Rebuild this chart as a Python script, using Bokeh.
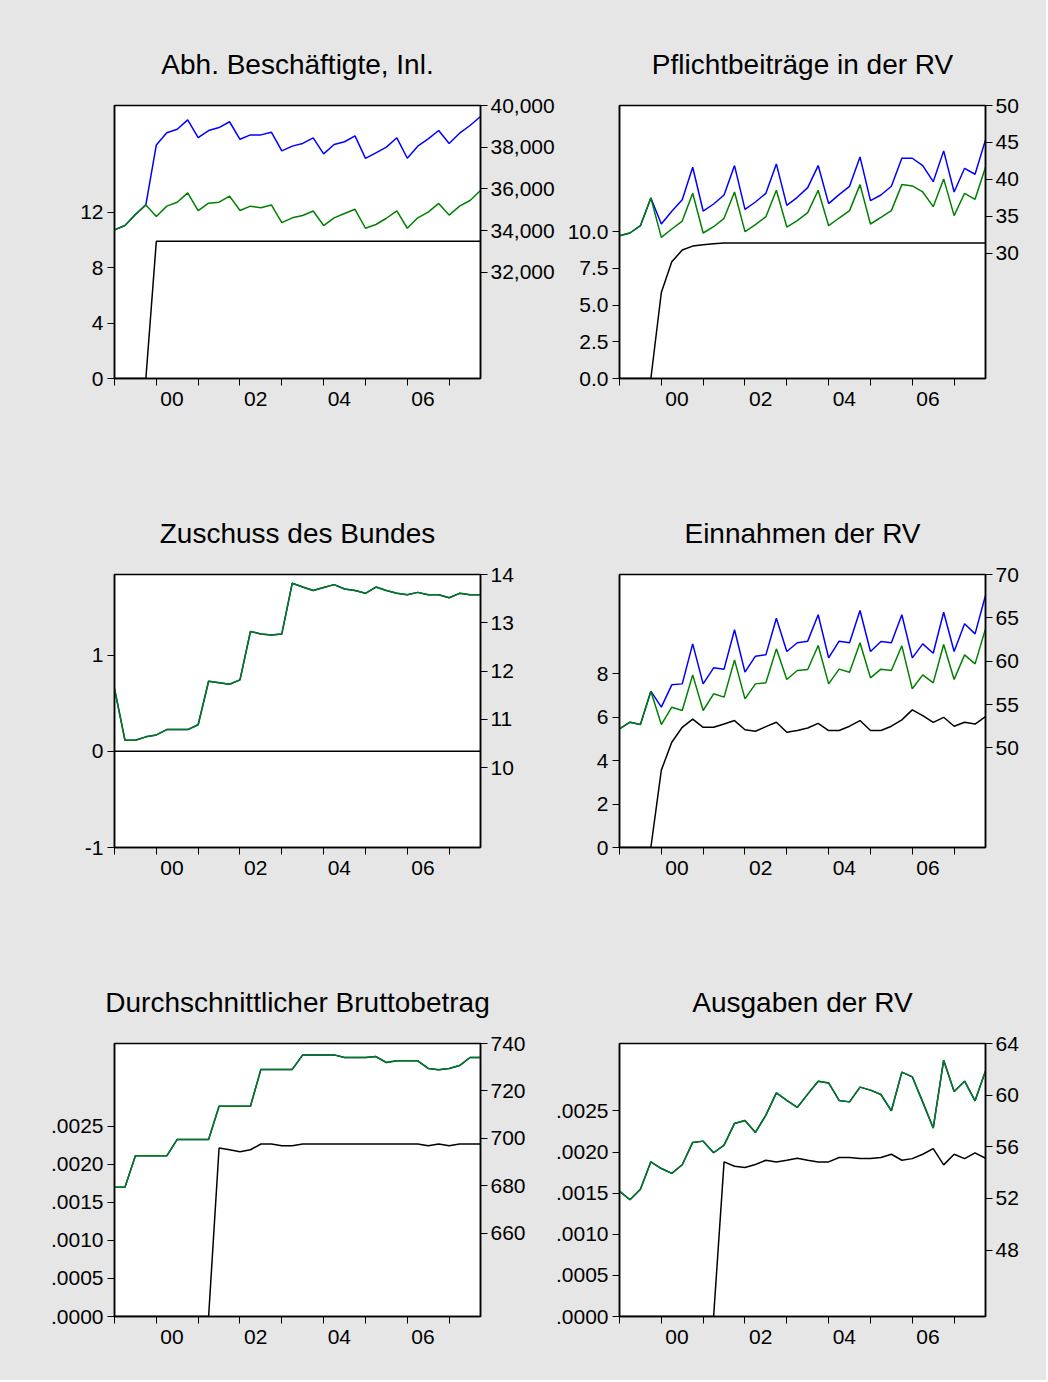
from bokeh.plotting import figure
from bokeh.models import Range1d, LinearAxis, FixedTicker
from bokeh.layouts import column, row
from bokeh.embed import file_html
from bokeh.resources import INLINE

# ---------------- data (quarterly, 1999Q1 .. 2007Q4) ----------------
years = [1999, 2000, 2001, 2002, 2003, 2004, 2005, 2006, 2007]
quarters = [y + q / 4 for y in years for q in range(4)]
x_label_pos = [2000.375, 2002.375, 2004.375, 2006.375]
x_labels = ["00", "02", "04", "06"]

# Panel 1: Abh. Beschäftigte, Inl.
p1_black = [0, 0, 0, 0, 9.9, 9.9, 9.9, 9.9, 9.9, 9.9, 9.9, 9.9,
            9.9, 9.9, 9.9, 9.9, 9.9, 9.9, 9.9, 9.9, 9.9, 9.9, 9.9, 9.9,
            9.9, 9.9, 9.9, 9.9, 9.9, 9.9, 9.9, 9.9, 9.9, 9.9, 9.9, 9.9]
p1_blue = [34030, 34240, 34770, 35230, 38110, 38690, 38860, 39310, 38460, 38800, 38940, 39220,
           38380, 38590, 38590, 38720, 37820, 38050, 38180, 38450, 37680, 38130, 38260, 38540,
           37460, 37730, 38000, 38450, 37470, 38050, 38400, 38800, 38180, 38670, 39040, 39470]
p1_green = [34030, 34240, 34770, 35230, 34670, 35170, 35360, 35810, 34960, 35310, 35360, 35650,
            34960, 35170, 35090, 35230, 34380, 34610, 34720, 34940, 34240, 34610, 34820, 35020,
            34110, 34290, 34590, 34940, 34110, 34610, 34880, 35300, 34740, 35170, 35440, 35920]
p1_left_ticks = [0, 4, 8, 12]
p1_left_labels = ["0", "4", "8", "12"]
p1_right_ticks = [32000, 34000, 36000, 38000, 40000]
p1_right_labels = ["32,000", "34,000", "36,000", "38,000", "40,000"]

# Panel 2: Pflichtbeiträge in der RV
p2_black = [0, 0, 0, 0, 5.86, 7.95, 8.75, 9.02, 9.11, 9.18, 9.23, 9.23,
            9.23, 9.23, 9.23, 9.23, 9.23, 9.23, 9.23, 9.23, 9.23, 9.23, 9.23, 9.23,
            9.23, 9.23, 9.23, 9.23, 9.23, 9.23, 9.23, 9.23, 9.23, 9.23, 9.23, 9.23]
p2_blue = [32.35, 32.72, 33.71, 37.47, 33.94, 35.66, 37.24, 41.63, 35.70, 36.65, 37.87, 41.86,
           35.93, 36.92, 38.10, 42.08, 36.47, 37.56, 38.87, 41.86, 36.70, 37.92, 39.05, 43.03,
           37.10, 37.87, 39.05, 42.85, 42.85, 41.86, 39.68, 43.85, 38.28, 41.49, 40.68, 45.34]
p2_green = [32.35, 32.72, 33.71, 37.47, 32.13, 33.26, 34.34, 38.10, 32.72, 33.57, 34.71, 38.28,
            32.90, 33.85, 34.93, 38.51, 33.53, 34.39, 35.48, 38.51, 33.71, 34.75, 35.75, 39.28,
            33.94, 34.84, 35.75, 39.28, 39.10, 38.28, 36.29, 40.05, 35.07, 38.10, 37.29, 41.63]
p2_left_ticks = [0, 2.5, 5, 7.5, 10]
p2_left_labels = ["0.0", "2.5", "5.0", "7.5", "10.0"]
p2_right_ticks = [30, 35, 40, 45, 50]
p2_right_labels = ["30", "35", "40", "45", "50"]

# Panel 3: Zuschuss des Bundes
p3_black = [0, 0, 0, 0, 0, 0, 0, 0, 0, 0, 0, 0,
            0, 0, 0, 0, 0, 0, 0, 0, 0, 0, 0, 0,
            0, 0, 0, 0, 0, 0, 0, 0, 0, 0, 0, 0]
p3_blue = [11.64, 10.57, 10.57, 10.64, 10.68, 10.79, 10.79, 10.79, 10.89, 11.79, 11.76, 11.73,
           11.82, 12.82, 12.77, 12.75, 12.77, 13.82, 13.74, 13.67, 13.73, 13.79, 13.70, 13.67,
           13.61, 13.74, 13.67, 13.61, 13.58, 13.63, 13.58, 13.58, 13.52, 13.61, 13.58, 13.58]
p3_green = [11.64, 10.57, 10.57, 10.64, 10.68, 10.79, 10.79, 10.79, 10.89, 11.79, 11.76, 11.73,
            11.82, 12.82, 12.77, 12.75, 12.77, 13.82, 13.74, 13.67, 13.73, 13.79, 13.70, 13.67,
            13.61, 13.74, 13.67, 13.61, 13.58, 13.63, 13.58, 13.58, 13.52, 13.61, 13.58, 13.58]
p3_left_ticks = [-1, 0, 1]
p3_left_labels = ["-1", "0", "1"]
p3_right_ticks = [10, 11, 12, 13, 14]
p3_right_labels = ["10", "11", "12", "13", "14"]

# Panel 4: Einnahmen der RV
p4_black = [0, 0, 0, 0, 3.56, 4.84, 5.53, 5.91, 5.53, 5.53, 5.68, 5.84,
            5.42, 5.35, 5.56, 5.76, 5.30, 5.38, 5.50, 5.71, 5.38, 5.38, 5.58, 5.84,
            5.38, 5.38, 5.58, 5.87, 6.33, 6.07, 5.76, 5.99, 5.58, 5.76, 5.68, 6.02]
p4_blue = [52.19, 52.96, 52.69, 56.54, 54.69, 57.27, 57.38, 62.00, 57.38, 59.23, 59.08, 63.62,
           58.73, 60.58, 60.73, 64.96, 61.12, 62.12, 62.31, 65.35, 60.38, 62.31, 62.12, 65.85,
           61.12, 62.27, 62.12, 65.35, 60.38, 62.00, 60.92, 65.65, 61.12, 64.31, 63.15, 67.58]
p4_green = [52.19, 52.96, 52.69, 56.54, 52.69, 54.69, 54.31, 58.42, 54.31, 56.23, 55.85, 60.15,
            55.65, 57.38, 57.50, 61.42, 57.88, 58.92, 59.04, 61.81, 57.38, 59.08, 58.73, 62.12,
            58.08, 59.08, 58.92, 61.77, 56.81, 58.42, 57.50, 61.92, 57.88, 60.73, 59.69, 63.73]
p4_left_ticks = [0, 2, 4, 6, 8]
p4_left_labels = ["0", "2", "4", "6", "8"]
p4_right_ticks = [50, 55, 60, 65, 70]
p4_right_labels = ["50", "55", "60", "65", "70"]

# Panel 5: Durchschnittlicher Bruttobetrag
p5_black = [0, 0, 0, 0, 0, 0, 0, 0, 0, 0, 0.002215, 0.002193,
            0.002167, 0.002193, 0.002268, 0.002268, 0.002246, 0.002246, 0.002268, 0.002268,
            0.002268, 0.002268, 0.002268, 0.002268,
            0.002268, 0.002268, 0.002268, 0.002268, 0.002268, 0.002268, 0.002246, 0.002268,
            0.002246, 0.002268, 0.002268, 0.002268]
p5_blue = [679.4, 679.4, 692.7, 692.7, 692.7, 692.7, 699.6, 699.6, 699.6, 699.6, 713.6, 713.6,
           713.6, 713.6, 729.1, 729.1, 729.1, 729.1, 735.2, 735.2, 735.2, 735.2, 734.1, 734.1,
           734.1, 734.5, 732.0, 732.7, 732.7, 732.7, 729.5, 728.9, 729.5, 730.7, 734.1, 734.1]
p5_green = [679.4, 679.4, 692.7, 692.7, 692.7, 692.7, 699.6, 699.6, 699.6, 699.6, 713.6, 713.6,
            713.6, 713.6, 729.1, 729.1, 729.1, 729.1, 735.2, 735.2, 735.2, 735.2, 734.1, 734.1,
            734.1, 734.5, 732.0, 732.7, 732.7, 732.7, 729.5, 728.9, 729.5, 730.7, 734.1, 734.1]
p5_left_ticks = [0.0, 0.0005, 0.001, 0.0015, 0.002, 0.0025]
p5_left_labels = [".0000", ".0005", ".0010", ".0015", ".0020", ".0025"]
p5_right_ticks = [660, 680, 700, 720, 740]
p5_right_labels = ["660", "680", "700", "720", "740"]

# Panel 6: Ausgaben der RV
p6_black = [0, 0, 0, 0, 0, 0, 0, 0, 0, 0, 0.00188, 0.001827,
            0.001811, 0.001848, 0.00190, 0.00188, 0.00190, 0.001925, 0.00190, 0.00188,
            0.00188, 0.001933, 0.001933, 0.00192,
            0.00192, 0.001933, 0.001973, 0.00190, 0.00192, 0.001973, 0.002042, 0.001844,
            0.001973, 0.00192, 0.00199, 0.001925]
p6_blue = [52.57, 51.90, 52.72, 54.84, 54.32, 53.94, 54.61, 56.34, 56.44, 55.54, 56.13, 57.81,
           58.04, 57.11, 58.45, 60.18, 59.59, 59.05, 60.08, 61.08, 60.95, 59.59, 59.48, 60.62,
           60.39, 60.05, 58.79, 61.78, 61.42, 59.46, 57.45, 62.71, 60.28, 61.08, 59.56, 61.88]
p6_green = [52.57, 51.90, 52.72, 54.84, 54.32, 53.94, 54.61, 56.34, 56.44, 55.54, 56.13, 57.81,
            58.04, 57.11, 58.45, 60.18, 59.59, 59.05, 60.08, 61.08, 60.95, 59.59, 59.48, 60.62,
            60.39, 60.05, 58.79, 61.78, 61.42, 59.46, 57.45, 62.71, 60.28, 61.08, 59.56, 61.88]
p6_left_ticks = [0.0, 0.0005, 0.001, 0.0015, 0.002, 0.0025]
p6_left_labels = [".0000", ".0005", ".0010", ".0015", ".0020", ".0025"]
p6_right_ticks = [48, 52, 56, 60, 64]
p6_right_labels = ["48", "52", "56", "60", "64"]

# ---------------- styling ----------------
BG = "#e6e6e6"
FONT = "Liberation Sans"
TICK_FS = "21px"
TITLE_FS = "28px"
TOP = 105
LW = 1.5


def style_y(ax, ticks, labels, standoff):
    ax.ticker = FixedTicker(ticks=ticks)
    ax.major_label_overrides = {t: l for t, l in zip(ticks, labels)}
    ax.major_label_text_font = FONT
    ax.major_label_text_font_size = TICK_FS
    ax.major_label_text_color = "black"
    ax.axis_line_color = "black"
    ax.axis_line_width = 1.5
    ax.major_tick_line_color = "black"
    ax.major_tick_line_width = 1
    ax.major_tick_in = 0
    ax.major_tick_out = 7
    ax.minor_tick_line_color = None
    ax.major_label_standoff = standoff


def panel(title, black, blue, green, lrange, rrange, lticks, llabels, rticks, rlabels,
          width, height, bl, br, bb):
    p = figure(width=width, height=height,
               x_range=Range1d(1999, 2007.75), y_range=Range1d(*lrange),
               output_backend="svg", toolbar_location=None, tools="",
               min_border_left=bl, min_border_right=br, min_border_top=TOP,
               min_border_bottom=bb,
               background_fill_color="white", border_fill_color=BG,
               outline_line_color="black", outline_line_width=1.5)
    p.title.text = title
    p.title.align = "center"
    p.title.text_font = FONT
    p.title.text_font_size = TITLE_FS
    p.title.text_font_style = "normal"
    p.title.text_color = "black"
    p.title.standoff = 52
    p.xgrid.visible = False
    p.ygrid.visible = False
    p.extra_y_ranges = {"r": Range1d(*rrange)}

    style_y(p.yaxis[0], lticks, llabels, 4)
    rax = LinearAxis(y_range_name="r")
    style_y(rax, rticks, rlabels, 3)
    p.add_layout(rax, "right")

    xa = p.xaxis[0]
    xa.ticker = FixedTicker(ticks=x_label_pos, minor_ticks=years)
    xa.major_label_overrides = {t: l for t, l in zip(x_label_pos, x_labels)}
    xa.major_label_text_font = FONT
    xa.major_label_text_font_size = TICK_FS
    xa.major_label_text_color = "black"
    xa.axis_line_color = "black"
    xa.axis_line_width = 1.5
    xa.major_tick_line_color = None
    xa.major_tick_in = 0
    xa.major_tick_out = 0
    xa.minor_tick_line_color = "black"
    xa.minor_tick_line_width = 1
    xa.minor_tick_in = 0
    xa.minor_tick_out = 7
    xa.major_label_standoff = 6

    p.line(quarters, black, color="black", line_width=LW)
    p.line(quarters, blue, color="#0000ff", line_width=LW, y_range_name="r")
    p.line(quarters, green, color="#008000", line_width=LW, y_range_name="r")
    return p


f1 = panel("Abh. Beschäftigte, Inl.", p1_black, p1_blue, p1_green, (0, 19.7), (26900, 40000),
           p1_left_ticks, p1_left_labels, p1_right_ticks, p1_right_labels, 561, 469, 114, 81, 91)
f2 = panel("Pflichtbeiträge in der RV", p2_black, p2_blue, p2_green, (0, 18.6), (13.0, 50),
           p2_left_ticks, p2_left_labels, p2_right_ticks, p2_right_labels, 485, 469, 58, 61, 91)
f3 = panel("Zuschuss des Bundes", p3_black, p3_blue, p3_green, (-1, 1.84), (8.35, 14),
           p3_left_ticks, p3_left_labels, p3_right_ticks, p3_right_labels, 550, 469, 114, 70, 91)
f4 = panel("Einnahmen der RV", p4_black, p4_blue, p4_green, (0, 12.56), (38.5, 70),
           p4_left_ticks, p4_left_labels, p4_right_ticks, p4_right_labels, 496, 469, 69, 61, 91)
f5 = panel("Durchschnittlicher Bruttobetrag", p5_black, p5_blue, p5_green, (0, 0.00359), (625, 740),
           p5_left_ticks, p5_left_labels, p5_right_ticks, p5_right_labels, 540, 442, 114, 60, 64)
f6 = panel("Ausgaben der RV", p6_black, p6_blue, p6_green, (0, 0.00332), (42.86, 64),
           p6_left_ticks, p6_left_labels, p6_right_ticks, p6_right_labels, 506, 442, 79, 61, 64)

layout = column(row(f1, f2, styles={"background-color": BG}),
                row(f3, f4, styles={"background-color": BG}),
                row(f5, f6, styles={"background-color": BG}),
                styles={"background-color": BG})

open("out.html", "w").write(file_html(layout, INLINE))
